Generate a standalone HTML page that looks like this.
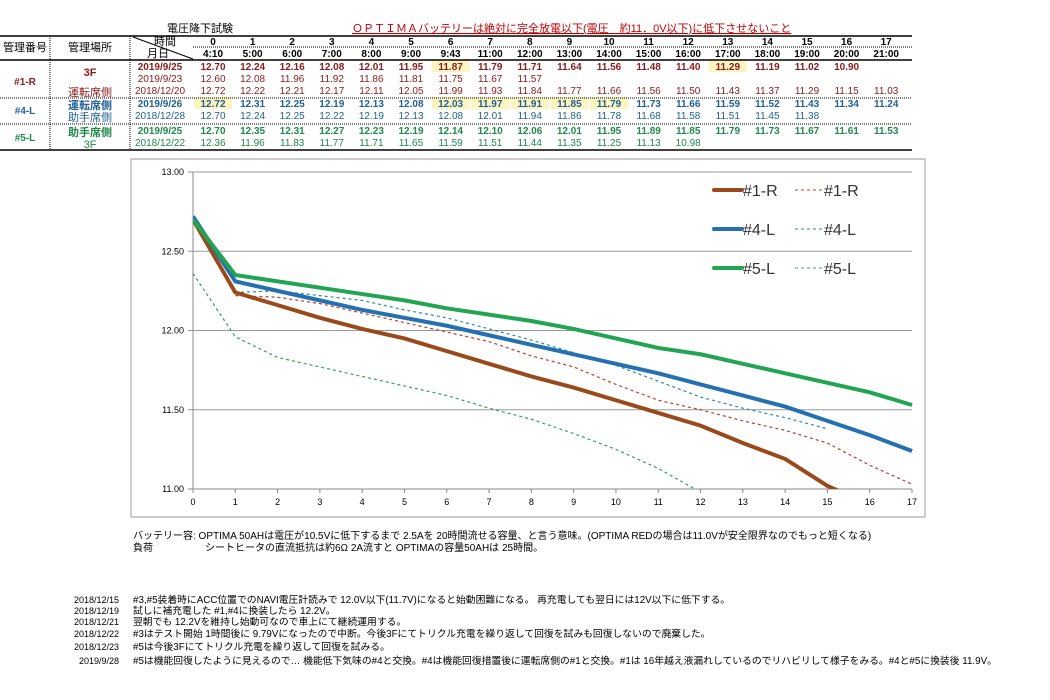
<!DOCTYPE html>
<html><head><meta charset="utf-8"><style>
body{margin:0;background:#fff;width:1050px;height:695px;overflow:hidden}
svg text{font-family:"Liberation Sans","Noto Sans CJK JP",sans-serif}
</style></head><body>
<svg id="s" width="1050" height="695">
<g id="tbl"></g>
<g id="chart"></g>
<g id="notes"></g>
</svg>
<script>
const hours=[0,1,2,3,4,5,6,7,8,9,10,11,12,13,14,15,16,17];
const times=["4:10","5:00","6:00","7:00","8:00","9:00","9:43","11:00","12:00","13:00","14:00","15:00","16:00","17:00","18:00","19:00","20:00","21:00"];
const r1a=[12.70,12.24,12.16,12.08,12.01,11.95,11.87,11.79,11.71,11.64,11.56,11.48,11.40,11.29,11.19,11.02,10.90];
const r1b=[12.60,12.08,11.96,11.92,11.86,11.81,11.75,11.67,11.57];
const r1c=[12.72,12.22,12.21,12.17,12.11,12.05,11.99,11.93,11.84,11.77,11.66,11.56,11.50,11.43,11.37,11.29,11.15,11.03];
const r4a=[12.72,12.31,12.25,12.19,12.13,12.08,12.03,11.97,11.91,11.85,11.79,11.73,11.66,11.59,11.52,11.43,11.34,11.24];
const r4b=[12.70,12.24,12.25,12.22,12.19,12.13,12.08,12.01,11.94,11.86,11.78,11.68,11.58,11.51,11.45,11.38];
const r5a=[12.70,12.35,12.31,12.27,12.23,12.19,12.14,12.10,12.06,12.01,11.95,11.89,11.85,11.79,11.73,11.67,11.61,11.53];
const r5b=[12.36,11.96,11.83,11.77,11.71,11.65,11.59,11.51,11.44,11.35,11.25,11.13,10.98];
const yTicks=[13.00,12.50,12.00,11.50,11.00];
const NS="http://www.w3.org/2000/svg";
function mk(p,tag,at,txt){const e=document.createElementNS(NS,tag);for(const k in at)e.setAttribute(k,at[k]);if(txt!==undefined)e.textContent=txt;p.appendChild(e);return e;}
const T=document.getElementById('tbl'),C=document.getElementById('chart'),N=document.getElementById('notes');
const RED="#8b1a1a",BLU="#1f5f95",GRN="#1e8a4a";
let e=mk(T,'text',{x:200,y:32,'font-size':11,'text-anchor':'middle'},'電圧降下試験');


e=mk(T,'text',{x:352,y:32,'font-size':11,fill:'#c00000','text-decoration':'underline'},'ＯＰＴＩＭＡバッテリーは絶対に完全放電以下(電圧　約11．0V以下)に低下させないこと');


const hl=[[6,0],[13,0],[0,3],[6,3],[7,3],[8,3],[9,3],[10,3]];
const rowsY=[70,82,94,107,119,134,146];
function cx(i){return 213+i*39.6;}
hl.forEach(h=>{mk(T,'rect',{x:cx(h[0])-19,y:rowsY[h[1]]-10,width:38,height:12,fill:'#fdf5c0'});});
mk(T,'line',{x1:0,y1:36,x2:912,y2:36,stroke:'#000','stroke-width':1.5});
mk(T,'line',{x1:0,y1:60,x2:912,y2:60,stroke:'#000','stroke-width':1.5});
mk(T,'line',{x1:0,y1:150,x2:912,y2:150,stroke:'#000','stroke-width':1.5});
mk(T,'line',{x1:193,y1:47,x2:912,y2:47,stroke:'#000','stroke-dasharray':'1,1'});
[98,124].forEach(y=>mk(T,'line',{x1:0,y1:y,x2:912,y2:y,stroke:'#000','stroke-dasharray':'1,1'}));
[50,130].forEach(x=>mk(T,'line',{x1:x,y1:36,x2:x,y2:150,stroke:'#000','stroke-dasharray':'1,1'}));
mk(T,'line',{x1:133,y1:37,x2:193,y2:59,stroke:'#000'});
mk(T,'text',{x:25,y:51,'font-size':11,'text-anchor':'middle'},'管理番号');
mk(T,'text',{x:90,y:51,'font-size':11,'text-anchor':'middle'},'管理場所');
mk(T,'text',{x:165,y:45,'font-size':11,'text-anchor':'middle'},'時間');
mk(T,'text',{x:158,y:57,'font-size':11,'text-anchor':'middle'},'月日');
hours.forEach((h,i)=>{
 let t=mk(T,'text',{x:cx(i),y:45,'font-size':10,'font-weight':'bold','text-anchor':'middle'},String(h));
 
 
 mk(T,'text',{x:cx(i),y:57,'font-size':10,'font-weight':'bold','text-anchor':'middle'},times[i]);
});
const rows=[[r1a,'2019/9/25',RED,true],[r1b,'2019/9/23',RED,false],[r1c,'2018/12/20',RED,false],[r4a,'2019/9/26',BLU,true],[r4b,'2018/12/28',BLU,false],[r5a,'2019/9/25',GRN,true],[r5b,'2018/12/22',GRN,false]];
rows.forEach((r,k)=>{
 const w=r[3]?'bold':'normal';
 mk(T,'text',{x:160,y:rowsY[k],'font-size':10,'font-weight':w,fill:r[2],'text-anchor':'middle'},r[1]);
 r[0].forEach((v,i)=>{
  const t=mk(T,'text',{x:cx(i),y:rowsY[k],'font-size':10,'font-weight':w,fill:r[2],'text-anchor':'middle'},v.toFixed(2));
  
  
 });
});
[['#1-R',85,RED],['#4-L',114,BLU],['#5-L',141,GRN]].forEach(a=>mk(T,'text',{x:25,y:a[1],'font-size':10,'font-weight':'bold',fill:a[2],'text-anchor':'middle'},a[0]));
[['3F',76,RED,'bold'],['運転席側',96,RED,'normal'],['運転席側',109,BLU,'bold'],['助手席側',121,BLU,'normal'],['助手席側',136,GRN,'bold'],['3F',148,GRN,'normal']].forEach(a=>mk(T,'text',{x:90,y:a[1],'font-size':11,'font-weight':a[3],fill:a[2],'text-anchor':'middle'},a[0]));
mk(C,'rect',{x:131,y:159,width:794,height:358,fill:'#fff',stroke:'#bbb','stroke-width':1.5});
function X(h){return 193+h*(912-193)/17;}
function Y(v){return 172+(13-v)*(489-172)/2;}
yTicks.forEach(v=>{
 mk(C,'line',{x1:188,y1:Y(v),x2:912,y2:Y(v),stroke:v===11?'#888':'#999'});
 const t=mk(C,'text',{x:184,y:Y(v)+3,'font-size':9,'text-anchor':'end'},v.toFixed(2));
 
 
});
mk(C,'line',{x1:193,y1:172,x2:193,y2:489,stroke:'#888'});
hours.forEach(h=>{
 mk(C,'line',{x1:X(h),y1:489,x2:X(h),y2:493,stroke:'#888'});
 const t=mk(C,'text',{x:X(h),y:505,'font-size':9,'text-anchor':'middle'},String(h));
 
 
});
mk(C,'clipPath',{id:'cp'});
mk(document.getElementById('cp'),'rect',{x:193,y:160,width:720,height:329});
const series=[[r1c,'#c0392b',1.2,'3,3','line-1r-dashed'],[r4b,'#2a8aa8',1.2,'3,3','line-4l-dashed'],[r5b,'#2aa65a',1.2,'3,3','line-5l-dashed'],
[r1a,'#9a4a1a',4,'','line-1r'],[r4a,'#2470b0',4,'','line-4l'],[r5a,'#22a553',4,'','line-5l']];
series.forEach(s=>{
 const pts=s[0].map((v,i)=>X(hours[i])+','+Y(v)).join(' ');
 const p=mk(C,'polyline',{points:pts,fill:'none',stroke:s[1],'stroke-width':s[2],'stroke-dasharray':s[3],'clip-path':'url(#cp)'});
 
 
});
[['#1-R',190,'#9a4a1a','#c0392b'],['#4-L',229,'#2470b0','#2a8aa8'],['#5-L',268,'#22a553','#2aa65a']].forEach(l=>{
 const g=mk(C,'g',{});
 
 
 mk(g,'line',{x1:714,y1:l[1],x2:742,y2:l[1],stroke:l[2],'stroke-width':4,'stroke-linecap':'round'});
 mk(g,'text',{x:743,y:l[1]+6,'font-size':16,fill:'#333'},l[0]);
 mk(g,'line',{x1:795,y1:l[1],x2:822,y2:l[1],stroke:l[3],'stroke-width':1,'stroke-dasharray':'3,3'});
 mk(g,'text',{x:824,y:l[1]+6,'font-size':16,fill:'#333'},l[0]);
});
mk(N,'text',{x:133,y:539,'font-size':10},'バッテリー容: OPTIMA 50AHは電圧が10.5Vに低下するまで 2.5Aを 20時間流せる容量、と言う意味。(OPTIMA REDの場合は11.0Vが安全限界なのでもっと短くなる)');
mk(N,'text',{x:133,y:551,'font-size':10},'負荷');
mk(N,'text',{x:205,y:551,'font-size':10},'シートヒータの直流抵抗は約6Ω 2A流すと OPTIMAの容量50AHは 25時間。');
const nd=['2018/12/15','2018/12/19','2018/12/21','2018/12/22','2018/12/23','2019/9/28'];
const nt=['#3,#5装着時にACC位置でのNAVI電圧計読みで 12.0V以下(11.7V)になると始動困難になる。 再充電しても翌日には12V以下に低下する。',
'試しに補充電した #1,#4に換装したら 12.2V。','翌朝でも 12.2Vを維持し始動可なので車上にて継続運用する。',
'#3はテスト開始 1時間後に 9.79Vになったので中断。今後3Fにてトリクル充電を繰り返して回復を試みも回復しないので廃棄した。',
'#5は今後3Fにてトリクル充電を繰り返して回復を試みる。',
'#5は機能回復したように見えるので… 機能低下気味の#4と交換。#4は機能回復措置後に運転席側の#1と交換。#1は 16年越え液漏れしているのでリハビリして様子をみる。#4と#5に換装後 11.9V。'];
const ny=[603,614,625,637,650,664];
nd.forEach((d,i)=>{
 mk(N,'text',{x:119,y:ny[i],'font-size':9,'text-anchor':'end'},d);
 const t=mk(N,'text',{x:133,y:ny[i],'font-size':9.8},nt[i]);
 
 
});
</script>
</body></html>
